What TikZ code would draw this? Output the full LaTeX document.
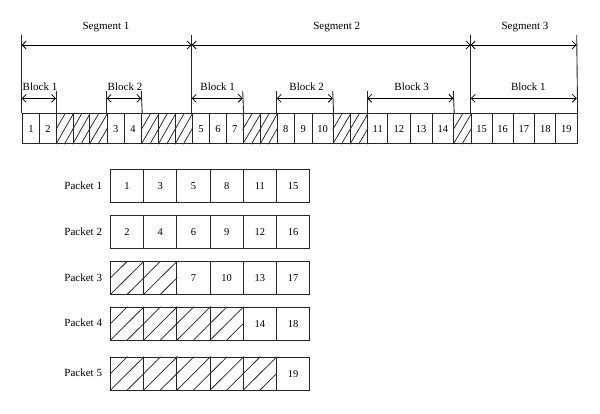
\documentclass[tikz,border=0pt]{standalone}
\usepackage{fontspec}
\setmainfont{Liberation Serif}
\usetikzlibrary{arrows.meta,calc}
\newcommand{\hatchcell}[2]{%
  \begin{scope}
    \clip (#1.south west) rectangle (#1.north east);
    \foreach \s in {-1,-0.5,0,0.5,1}{%
      \pgfmathsetmacro\off{\s*#2}%
      \draw[hatchline] ($(#1.south west)+(\off,0)$) -- ($(#1.north east)+(\off,0)$);}
  \end{scope}}
\begin{document}
\begin{tikzpicture}[x=1pt,y=-1pt,line width=0.9pt,
  cell/.style={draw=black!85, inner sep=0pt, anchor=north west, minimum height=30pt,
    font=\fontsize{10.5}{12}\selectfont},
  pcell/.style={cell, minimum width=33.2pt, minimum height=33pt},
  lbl/.style={font=\fontsize{11}{13}\selectfont, inner sep=0pt},
  dim/.style={{Straight Barb[length=4pt,width=8pt]}-{Straight Barb[length=4pt,width=8pt]}, line width=0.75pt},
  hatchline/.style={line width=0.75pt, draw=black!85},
  guide/.style={line width=0.9pt, draw=black!85}]
\useasboundingbox (0,0) rectangle (600,413);

% ---- top row: numbered cells
\foreach \a/\b/\t in {21.7/39.3/1, 39.3/56/2, 106.7/124/3, 124/141.3/4,
  191.7/209.3/5, 209.3/226/6, 226/242.7/7, 276.7/294/8, 294/311.7/9, 311.7/332.7/10,
  367.3/387.3/11, 387.3/409.7/12, 409.7/431.7/13, 431.7/453.3/14,
  470.7/491.7/15, 491.7/512.7/16, 512.7/534.3/17, 534.3/555.3/18, 555.3/576.7/19}
  \node[cell, minimum width={(\b-\a)*1pt}] (t\t) at (\a,113.3) {\t};

% ---- top row: hatched cells
\foreach \a/\b/\i in {56/72.7/1, 72.7/89.3/2, 89.3/106.7/3, 141.3/158.3/4, 158.3/175/5,
  175/191.7/6, 242.7/260/7, 260/276.7/8, 332.7/350/9, 350/367.3/10, 453.3/470.7/11}{
  \node[cell, minimum width={(\b-\a)*1pt}] (h\i) at (\a,113.3) {};
  \pgfmathsetmacro\w{\b-\a}
  \hatchcell{h\i}{\w}
}

% ---- segment guides
\coordinate (sv1) at (21.7,35);  \coordinate (sa1) at (21.7,45);
\coordinate (sv2) at (191.7,35); \coordinate (sa2) at (191.7,45);
\coordinate (sv3) at (470.7,35); \coordinate (sa3) at (470.7,45);
\coordinate (sv4) at (576.7,35); \coordinate (sa4) at (576.7,45);
\draw[guide] (sv1) -- (t1.north west);
\draw[guide] (sv2) -- (t5.north west);
\draw[guide] (sv3) -- (t15.north west);
\draw[guide] (sv4) -- (t19.north east);
\draw[dim] (sa1) -- (sa2);
\draw[dim] (sa2) -- (sa3);
\draw[dim] (sa3) -- (sa4);
\node[lbl, anchor=base] (seg1) at (106,29) {Segment 1};
\node[lbl, anchor=base] (seg2) at (336.7,29) {Segment 2};
\node[lbl, anchor=base] (seg3) at (525,29) {Segment 3};

% ---- block guides
\foreach \x/\n in {56/b1, 106.7/b2, 141.3/b3, 242.7/b4, 276.7/b5, 332.7/b6, 367.3/b7, 453.3/b8}{
  \coordinate (\n) at (\x,91);
  \coordinate (\n a) at (\x,98.3);
}
\draw[guide] (b1) -- (h1.north west);
\draw[guide] (b2) -- (t3.north west);
\draw[guide] (b3) -- (t4.north east);
\draw[guide] (b4) -- (t7.north east);
\draw[guide] (b5) -- (t8.north west);
\draw[guide] (b6) -- (t10.north east);
\draw[guide] (b7) -- (t11.north west);
\draw[guide] (b8) -- (t14.north east);
\coordinate (ba1) at (21.7,98.3);
\coordinate (ba2) at (191.7,98.3);
\coordinate (ba3) at (470.7,98.3);
\coordinate (ba4) at (576.7,98.3);
\draw[dim] (ba1) -- (b1a);
\draw[dim] (b2a) -- (b3a);
\draw[dim] (ba2) -- (b4a);
\draw[dim] (b5a) -- (b6a);
\draw[dim] (b7a) -- (b8a);
\draw[dim] (ba3) -- (ba4);
\node[lbl, anchor=base] (bl1) at (40,90) {Block 1};
\node[lbl, anchor=base] (bl2) at (125,90) {Block 2};
\node[lbl, anchor=base] (bl3) at (217.7,90) {Block 1};
\node[lbl, anchor=base] (bl4) at (306.7,90) {Block 2};
\node[lbl, anchor=base] (bl5) at (411.7,90) {Block 3};
\node[lbl, anchor=base] (bl6) at (528.3,90) {Block 1};

% ---- packets
\foreach \r/\y in {1/169.3, 2/215, 3/261, 4/306.7, 5/356.7}
  \node[lbl, anchor=east] (pl\r) at (102.5,\y+16.5) {Packet \r};
\foreach \t [count=\k] in {1,3,5,8,11,15}
  \node[pcell] (p1c\k) at ({110+(\k-1)*33.2},169.3) {\t};
\foreach \t [count=\k] in {2,4,6,9,12,16}
  \node[pcell] (p2c\k) at ({110+(\k-1)*33.2},215) {\t};
\foreach \t [count=\k from 3] in {7,10,13,17}
  \node[pcell] (p3c\k) at ({110+(\k-1)*33.2},261) {\t};
\foreach \t [count=\k from 5] in {14,18}
  \node[pcell] (p4c\k) at ({110+(\k-1)*33.2},306.7) {\t};
\foreach \t [count=\k from 6] in {19}
  \node[pcell] (p5c\k) at ({110+(\k-1)*33.2},356.7) {\t};
\foreach \r/\y/\n in {3/261/2, 4/306.7/4, 5/356.7/5}{
  \foreach \k in {1,...,\n}{
    \node[pcell] (p\r c\k) at ({110+(\k-1)*33.2},\y) {};
    \hatchcell{p\r c\k}{33.2}
  }
}
\end{tikzpicture}
\end{document}
